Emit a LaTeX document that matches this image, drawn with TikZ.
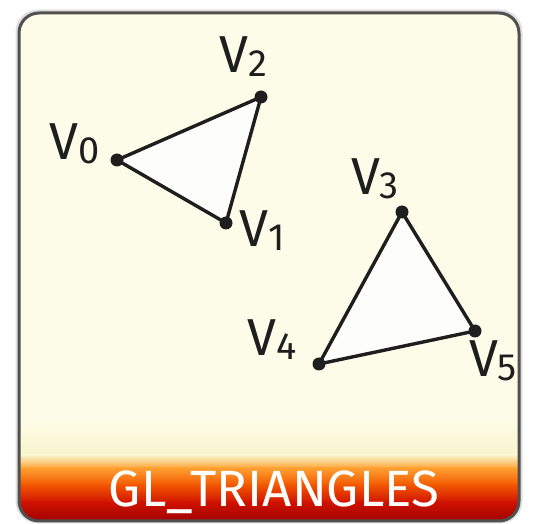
\documentclass[tikz,border=0pt]{standalone}
\usepackage{fontspec}
\setmainfont{Fira Sans}
\definecolor{cream}{HTML}{FDFCE8}
\definecolor{creamlow}{HTML}{F9F4CC}
\definecolor{bandA}{HTML}{FFA030}
\definecolor{bandB}{HTML}{F25500}
\definecolor{bandC}{HTML}{D01200}
\definecolor{bandD}{HTML}{9E0000}
\definecolor{framecol}{HTML}{505050}
\definecolor{inkcol}{HTML}{1E1E1E}
\definecolor{trifill}{HTML}{FDFDFB}
\newcommand{\vlab}[1]{{\fontsize{52}{56}\selectfont V}{\fontsize{38}{42}\selectfont\raisebox{-4pt}{#1}}}
\begin{document}
\begin{tikzpicture}[x=1pt,y=-1pt,
  dot/.style={circle,fill=inkcol,inner sep=0pt,minimum size=13pt},
  tri/.style={draw=inkcol,line width=3.4pt,fill=trifill,line join=round},
  vlabel/.style={text=inkcol,inner sep=0pt,anchor=center},
  title/.style={text=white,inner sep=0pt,anchor=base,font=\fontsize{51}{56}\selectfont}]
\useasboundingbox (0,0) rectangle (542,524);
\fill[white] (0,0) rectangle (542,524);
% soft shadow
\draw[black!12,line width=3pt,rounded corners=21pt] (17,11) rectangle (521,522);
\begin{scope}
  \clip[rounded corners=20pt] (19,13) rectangle (519,521);
  \fill[cream] (19,13) rectangle (519,421);
  \shade[top color=cream,bottom color=creamlow] (19,420) rectangle (519,456);
  \shade[top color=creamlow,bottom color=bandA] (19,455) rectangle (519,469);
  \shade[top color=bandA,bottom color=bandB] (19,468) rectangle (519,486);
  \shade[top color=bandB,bottom color=bandC] (19,485) rectangle (519,503);
  \shade[top color=bandC,bottom color=bandD] (19,502) rectangle (519,522);
\end{scope}
\draw[framecol,line width=3pt,rounded corners=20pt] (19,13) rectangle (519,521);
% vertices
\coordinate (c0) at (117,160);
\coordinate (c1) at (226,223);
\coordinate (c2) at (261,97);
\coordinate (c3) at (402,212);
\coordinate (c4) at (319,364);
\coordinate (c5) at (475,331);
\draw[tri] (c0) -- (c1) -- (c2) -- cycle;
\draw[tri] (c3) -- (c4) -- (c5) -- cycle;
\node[dot] (v0) at (c0) {};
\node[dot] (v1) at (c1) {};
\node[dot] (v2) at (c2) {};
\node[dot] (v3) at (c3) {};
\node[dot] (v4) at (c4) {};
\node[dot] (v5) at (c5) {};
\node[vlabel] (l0) at (75,144) {\vlab{0}};
\node[vlabel] (l1) at (262,231) {\vlab{1}};
\node[vlabel] (l2) at (243,57) {\vlab{2}};
\node[vlabel] (l3) at (375,179) {\vlab{3}};
\node[vlabel] (l4) at (272,340) {\vlab{4}};
\node[vlabel] (l5) at (493,361) {\vlab{5}};
\node[title] (t) at (274,507) {GL\_TRIANGLES};
\end{tikzpicture}
\end{document}
